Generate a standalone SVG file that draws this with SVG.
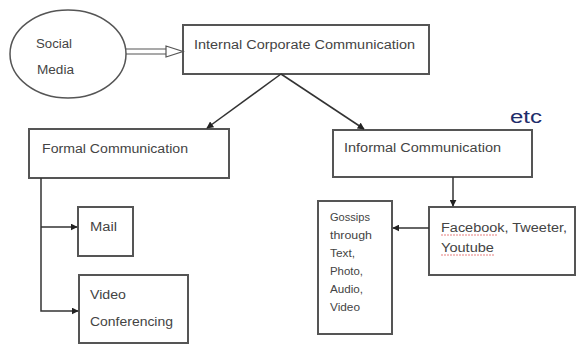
<svg xmlns="http://www.w3.org/2000/svg" width="577" height="348" viewBox="0 0 577 348">
<defs>
<marker id="ah" viewBox="0 0 10 10" refX="9" refY="5" markerWidth="7" markerHeight="7" markerUnits="userSpaceOnUse" orient="auto">
<path d="M0,0 L10,5 L0,10 z" fill="#222"/>
</marker>
</defs>
<style>
.box{fill:#fff;stroke:#555;stroke-width:2}
.t{font-family:"Liberation Sans",Arial,sans-serif;font-size:12.5px;fill:#444}
.s{font-family:"Liberation Sans",Arial,sans-serif;font-size:10px;fill:#444}
.c{fill:none;stroke:#333;stroke-width:1.5}
.sq{fill:none;stroke:#e06060;stroke-width:0.8;stroke-dasharray:2 1}
</style>
<rect width="577" height="348" fill="#fff"/>
<g id="social">
<ellipse cx="68" cy="54" rx="58" ry="44" fill="#fff" stroke="#555" stroke-width="1.5"/>
<text class="t" x="36" y="48" textLength="36" lengthAdjust="spacingAndGlyphs">Social</text>
<text class="t" x="37" y="74" textLength="37" lengthAdjust="spacingAndGlyphs">Media</text>
</g>
<g id="internal">
<rect class="box" x="183" y="25" width="246" height="49"/>
<text class="t" x="194" y="49" textLength="221" lengthAdjust="spacingAndGlyphs">Internal Corporate Communication</text>
</g>
<g id="formal">
<rect class="box" x="29" y="129" width="200" height="49"/>
<text class="t" x="42" y="153" textLength="146" lengthAdjust="spacingAndGlyphs">Formal Communication</text>
</g>
<g id="informal">
<rect class="box" x="333" y="130" width="199" height="47"/>
<text class="t" x="344" y="152" textLength="157" lengthAdjust="spacingAndGlyphs">Informal Communication</text>
</g>
<g id="mail">
<rect class="box" x="78" y="207" width="55" height="49"/>
<text class="t" x="90" y="231" textLength="27" lengthAdjust="spacingAndGlyphs">Mail</text>
</g>
<g id="video">
<rect class="box" x="79" y="275" width="109" height="68"/>
<text class="t" x="90" y="299" textLength="36" lengthAdjust="spacingAndGlyphs">Video</text>
<text class="t" x="90" y="326" textLength="83" lengthAdjust="spacingAndGlyphs">Conferencing</text>
</g>
<g id="facebook">
<rect class="box" x="429" y="207" width="146" height="68"/>
<text class="t" x="441" y="232" textLength="126" lengthAdjust="spacingAndGlyphs">Facebook, Tweeter,</text>
<text class="t" x="441" y="252" textLength="53" lengthAdjust="spacingAndGlyphs">Youtube</text>
<path class="sq" d="M441,235 H497"/>
<path class="sq" d="M441,255 H494"/>
</g>
<g id="gossips">
<rect class="box" x="318" y="201" width="74" height="133"/>
<text class="s" x="330" y="221" textLength="40" lengthAdjust="spacingAndGlyphs">Gossips</text>
<text class="s" x="330" y="239" textLength="42" lengthAdjust="spacingAndGlyphs">through</text>
<text class="s" x="330" y="257" textLength="25" lengthAdjust="spacingAndGlyphs">Text,</text>
<text class="s" x="330" y="275" textLength="33" lengthAdjust="spacingAndGlyphs">Photo,</text>
<text class="s" x="330" y="293" textLength="33" lengthAdjust="spacingAndGlyphs">Audio,</text>
<text class="s" x="330" y="311" textLength="30" lengthAdjust="spacingAndGlyphs">Video</text>
</g>
<g id="etc">
<text x="510" y="123" font-family="'Liberation Sans',Arial,sans-serif" font-size="18" fill="#1f2d6b" textLength="32" lengthAdjust="spacingAndGlyphs">etc</text>
</g>
<g id="connectors">
<path d="M126,49 H166 M126,54 H166" fill="none" stroke="#555" stroke-width="1.2"/>
<path d="M166,46 L183,51.5 L166,57 z" fill="#fff" stroke="#555" stroke-width="1.2"/>
<path class="c" d="M281,74 L207,128" marker-end="url(#ah)"/>
<path class="c" d="M281,74 L364,129" marker-end="url(#ah)"/>
<path class="c" d="M41,178 V311 H78" marker-end="url(#ah)"/>
<path class="c" d="M41,227 H77" marker-end="url(#ah)"/>
<path class="c" d="M453,177 V206" marker-end="url(#ah)"/>
<path class="c" d="M429,228 H393" marker-end="url(#ah)"/>
</g>
</svg>
